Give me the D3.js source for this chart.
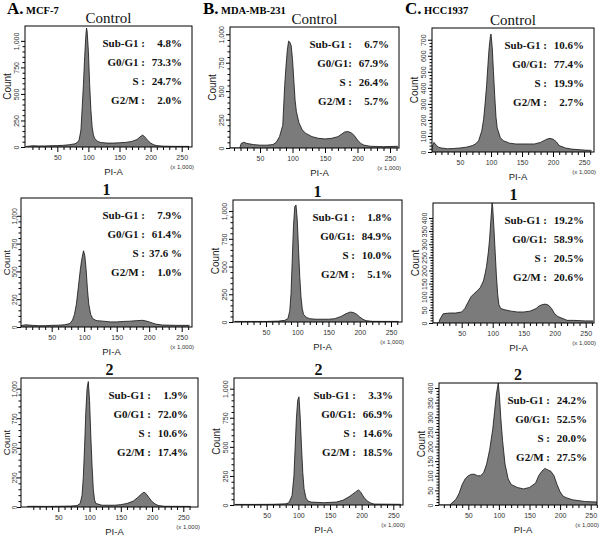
<!DOCTYPE html>
<html><head><meta charset="utf-8">
<script src="https://cdn.jsdelivr.net/npm/d3@7"></script>
<style>body{margin:0;background:#fff}svg{display:block}</style>
</head><body><svg id="c" width="600" height="536"></svg>
<script>
// ---------- data ----------
const xMajor = [50, 100, 150, 200, 250];
const yTicksAB = [0, 250, 500, 750, 1000];
const yTicksC0 = [0, 100, 200, 300, 400, 500, 600, 700];
const yTicksC12 = [0, 50, 100, 150, 200, 250, 300, 350, 400];

const phaseLabelsA = ["Sub-G1 :", "G0/G1 :", "S :", "G2/M :"];
const phaseLabelsBC = ["Sub-G1 :", "G0/G1:", "S :", "G2/M :"];

const statsA0 = ["4.8%", "73.3%", "24.7%", "2.0%"];
const statsA1 = ["7.9%", "61.4%", "37.6 %", "1.0%"];
const statsA2 = ["1.9%", "72.0%", "10.6%", "17.4%"];
const statsB0 = ["6.7%", "67.9%", "26.4%", "5.7%"];
const statsB1 = ["1.8%", "84.9%", "10.0%", "5.1%"];
const statsB2 = ["3.3%", "66.9%", "14.6%", "18.5%"];
const statsC0 = ["10.6%", "77.4%", "19.9%", "2.7%"];
const statsC1 = ["19.2%", "58.9%", "20.5%", "20.6%"];
const statsC2 = ["24.2%", "52.5%", "20.0%", "27.5%"];

// histograms: [PI-A (x1000), count]
const histA0 = [[0,5],[5,8],[10,12],[20,10],[30,10],[40,12],[50,13],[60,16],[70,22],[78,30],[82,42],[85,65],[88,160],[90,370],[92,590],[94,850],[96,1060],[97,1120],[98,1090],[100,900],[102,590],[104,350],[106,190],[108,115],[110,80],[115,53],[120,42],[130,37],[140,37],[150,40],[160,43],[170,53],[178,70],[183,95],[187,112],[190,100],[195,64],[200,37],[205,21],[210,13],[220,8],[240,6],[262,6]];
const histA1 = [[0,10],[5,15],[10,20],[20,15],[30,12],[40,12],[50,15],[60,16],[70,20],[78,31],[82,62],[85,113],[88,206],[91,360],[94,515],[96,600],[98,660],[99,685],[101,640],[103,515],[105,340],[107,206],[110,113],[113,77],[117,62],[120,57],[130,52],[140,46],[150,46],[160,50],[170,52],[180,57],[190,60],[195,54],[200,46],[205,36],[210,26],[220,18],[240,15],[262,15]];
const histA2 = [[0,5],[10,6],[30,5],[50,6],[70,8],[80,12],[85,30],[88,100],[90,250],[92,500],[94,800],[96,1000],[98,1060],[100,900],[102,600],[104,350],[106,150],[108,60],[110,30],[120,15],[140,15],[150,20],[160,30],[170,50],[177,80],[183,110],[187,125],[190,115],[195,80],[200,45],[205,25],[210,12],[220,6],[262,5]];
const histB0 = [[0,0],[19,0],[21,40],[25,50],[30,40],[40,30],[50,25],[60,25],[70,30],[75,50],[80,100],[85,200],[88,550],[90,720],[92,860],[94,940],[96,930],[98,900],[100,780],[102,600],[104,420],[106,320],[110,220],[115,160],[120,130],[130,100],[140,85],[150,80],[160,85],[170,100],[180,140],[185,145],[190,135],[195,110],[200,70],[205,40],[210,25],[220,15],[240,12],[262,15]];
const histB1 = [[0,5],[20,5],[50,5],[70,8],[80,15],[85,30],[88,100],[90,255],[92,560],[94,870],[96,1040],[98,1055],[100,920],[102,660],[104,410],[106,225],[108,120],[110,70],[115,40],[120,30],[130,25],[150,25],[160,30],[170,50],[178,75],[185,90],[190,85],[195,70],[200,45],[205,25],[210,12],[220,6],[262,5]];
const histB2 = [[0,5],[30,5],[60,6],[80,10],[85,20],[90,80],[93,250],[95,500],[97,750],[99,900],[101,930],[103,750],[105,500],[107,280],[109,140],[112,60],[115,35],[120,25],[140,20],[160,25],[170,40],[180,70],[185,90],[190,110],[195,130],[198,115],[202,80],[205,55],[210,30],[215,15],[220,8],[262,6]];
const histC0 = [[0,0],[4,0],[5,30],[8,60],[10,50],[15,30],[20,25],[30,20],[40,22],[50,25],[60,30],[70,40],[75,50],[80,70],[85,130],[88,200],[90,280],[93,420],[95,540],[97,650],[99,720],[100,735],[102,650],[104,500],[106,350],[108,220],[110,150],[115,90],[120,70],[130,55],[140,50],[150,50],[160,50],[170,50],[180,60],[190,80],[195,85],[200,80],[205,65],[210,40],[220,25],[230,18],[250,12],[262,10]];
const histC1 = [[0,0],[13,0],[15,15],[20,35],[30,38],[40,38],[50,42],[55,55],[60,78],[65,100],[70,112],[75,122],[80,135],[85,160],[88,190],[90,215],[93,270],[95,320],[97,390],[99,457],[100,440],[102,360],[104,270],[106,180],[108,110],[110,70],[113,55],[120,50],[130,45],[140,42],[150,42],[160,45],[170,55],[175,65],[180,70],[185,72],[190,68],[195,55],[200,35],[205,25],[210,20],[220,10],[230,10],[250,8],[262,8]];
const histC2 = [[0,0],[20,0],[22,5],[25,10],[30,20],[35,40],[40,70],[45,90],[50,100],[55,105],[60,105],[65,100],[70,100],[75,110],[80,140],[85,190],[90,260],[93,320],[96,380],[99,418],[101,370],[103,300],[106,220],[110,140],[115,90],[120,70],[130,60],[140,55],[150,60],[160,75],[165,100],[170,115],[175,125],[180,120],[185,115],[190,100],[195,70],[200,45],[205,30],[210,25],[220,18],[240,12],[262,10]];

const panelHeads = [
  {big: "A.", small: "MCF-7"},
  {big: "B.", small: "MDA-MB-231"},
  {big: "C.", small: "HCC1937"}
];

// ---------- layout (positions only) ----------
const layout = [
  {title:"Control", hist:histA0, stats:statsA0, labels:phaseLabelsA, yTicks:yTicksAB, yMinor:50, yMax:1140, box:[25,26,192,147], x50:57.3, x250:181.7},
  {title:"Control", hist:histB0, stats:statsB0, labels:phaseLabelsBC, yTicks:yTicksAB, yMinor:50, yMax:1064, box:[230,27,399,148], x50:260, x250:390},
  {title:"Control", hist:histC0, stats:statsC0, labels:phaseLabelsBC, yTicks:yTicksC0, yMinor:20, yMax:773, box:[432,28,594,152], x50:460, x250:584},
  {title:"1", hist:histA1, stats:statsA1, labels:phaseLabelsA, yTicks:yTicksAB, yMinor:50, yMax:1160, box:[21,198,192,327], x50:51.7, x250:181.7},
  {title:"1", hist:histB1, stats:statsB1, labels:phaseLabelsBC, yTicks:yTicksAB, yMinor:50, yMax:1100, box:[233,200,402,322], x50:266, x250:391},
  {title:"1", hist:histC1, stats:statsC1, labels:phaseLabelsBC, yTicks:yTicksC12, yMinor:10, yMax:457, box:[433,203,594,323], x50:461.7, x250:585.7},
  {title:"2", hist:histA2, stats:statsA2, labels:phaseLabelsA, yTicks:yTicksAB, yMinor:50, yMax:1090, box:[21,378,198,507], x50:58.3, x250:183.3},
  {title:"2", hist:histB2, stats:statsB2, labels:phaseLabelsBC, yTicks:yTicksAB, yMinor:50, yMax:1092, box:[234,378,403,505], x50:266.7, x250:393.3},
  {title:"2", hist:histC2, stats:statsC2, labels:phaseLabelsBC, yTicks:yTicksC12, yMinor:10, yMax:417, box:[439,383,597,505], x50:468.3, x250:590.7}
];
const headPos = [[7, 26], [203, 221], [405, 424]];

const SERIF = "'Liberation Serif','Times New Roman',serif";
const SANS = "'Liberation Sans',Arial,sans-serif";
const svg = d3.select("#c");
const defs = svg.append("defs");

// panel heads
panelHeads.forEach((h, i) => {
  const t = svg.append("text").attr("x", headPos[i][0]).attr("y", 14)
    .attr("font-family", SERIF).attr("font-weight", "bold");
  t.append("tspan").attr("font-size", 17).text(h.big);
  t.append("tspan").attr("x", headPos[i][1]).attr("font-size", 10.5).text(h.small);
});

layout.forEach((p, i) => {
  const [l, t, r, b] = p.box;
  const x = d3.scaleLinear().domain([50, 250]).range([p.x50, p.x250]);
  const y = d3.scaleLinear().domain([0, p.yMax]).range([b, t]).clamp(true);
  const g = svg.append("g");
  const tight = l < 24;

  defs.append("clipPath").attr("id", "clip" + i)
    .append("rect").attr("x", l).attr("y", t).attr("width", r - l).attr("height", b - t);

  const area = d3.area().x(d => x(d[0])).y0(b).y1(d => y(d[1])).curve(d3.curveLinear);
  const line = d3.line().x(d => x(d[0])).y(d => y(d[1])).curve(d3.curveLinear);
  g.append("path").datum(p.hist).attr("clip-path", `url(#clip${i})`)
    .attr("d", area).attr("fill", "#7b7b7b");
  g.append("path").datum(p.hist).attr("clip-path", `url(#clip${i})`)
    .attr("d", line).attr("fill", "none").attr("stroke", "#111").attr("stroke-width", 0.8);

  // frame
  g.append("rect").attr("x", l).attr("y", t).attr("width", r - l).attr("height", b - t)
    .attr("fill", "none").attr("stroke", "#000").attr("stroke-width", 1);

  // x axis minor
  const xMin = d3.range(10, 261, 10).filter(v => v % 50 !== 0);
  const xm = g.append("g").attr("transform", `translate(0,${b})`)
    .call(d3.axisBottom(x).tickValues(xMin).tickSize(3).tickFormat(""));
  xm.select(".domain").remove();
  const xa = g.append("g").attr("transform", `translate(0,${b})`)
    .call(d3.axisBottom(x).tickValues(xMajor).tickSize(5).tickPadding(3));
  xa.select(".domain").remove();
  xa.selectAll("text").attr("font-family", SANS).attr("font-size", 7).attr("fill", "#333");

  // y axis
  const yMaxTick = p.yTicks[p.yTicks.length - 1];
  const yMin = d3.range(0, yMaxTick + 1, p.yMinor).filter(v => !p.yTicks.includes(v));
  const ym = g.append("g").attr("transform", `translate(${l},0)`)
    .call(d3.axisLeft(y).tickValues(yMin).tickSize(2.5).tickFormat(""));
  ym.select(".domain").remove();
  const ya = g.append("g").attr("transform", `translate(${l},0)`)
    .call(d3.axisLeft(y).tickValues(p.yTicks).tickSize(4).tickFormat(d3.format(",")));
  ya.select(".domain").remove();
  ya.selectAll("text").attr("font-family", SANS).attr("font-size", tight ? 6.5 : 7).attr("fill", "#333")
    .attr("transform", "rotate(-90)").attr("x", 0).attr("y", tight ? -4.5 : -6).attr("dy", 0)
    .attr("text-anchor", "middle");

  // axis titles
  g.append("text").attr("x", (l + r) / 2 + 5).attr("y", b + 28).attr("text-anchor", "middle")
    .attr("font-family", SANS).attr("font-size", 9.5).attr("fill", "#222").text("PI-A");
  g.append("text").attr("x", r + 2).attr("y", b + 22).attr("text-anchor", "end")
    .attr("font-family", SANS).attr("font-size", 6).attr("fill", "#333").text("(x 1,000)");
  g.append("text").attr("transform", `translate(${tight ? 10 : l - 14},${(t + b) / 2}) rotate(-90)`)
    .attr("text-anchor", "middle").attr("font-family", SANS).attr("font-size", tight ? 9.5 : 10)
    .attr("fill", "#222").text("Count");

  // title
  const isCtrl = p.title === "Control";
  g.append("text").attr("x", (l + r) / 2).attr("y", t - 3).attr("text-anchor", "middle")
    .attr("font-family", SERIF).attr("font-size", isCtrl ? 15 : 16)
    .attr("font-weight", isCtrl ? "normal" : "bold").attr("fill", "#111").text(p.title);

  // stats
  p.labels.forEach((lab, k) => {
    const yy = t + 21 + k * 19;
    g.append("text").attr("x", r - 47).attr("y", yy).attr("text-anchor", "end")
      .attr("font-family", SERIF).attr("font-weight", "bold").attr("font-size", 11)
      .attr("fill", "#111").text(lab);
    g.append("text").attr("x", r - 10).attr("y", yy).attr("text-anchor", "end")
      .attr("font-family", SERIF).attr("font-weight", "bold").attr("font-size", 11)
      .attr("fill", "#111").text(p.stats[k]);
  });
});
</script></body></html>
